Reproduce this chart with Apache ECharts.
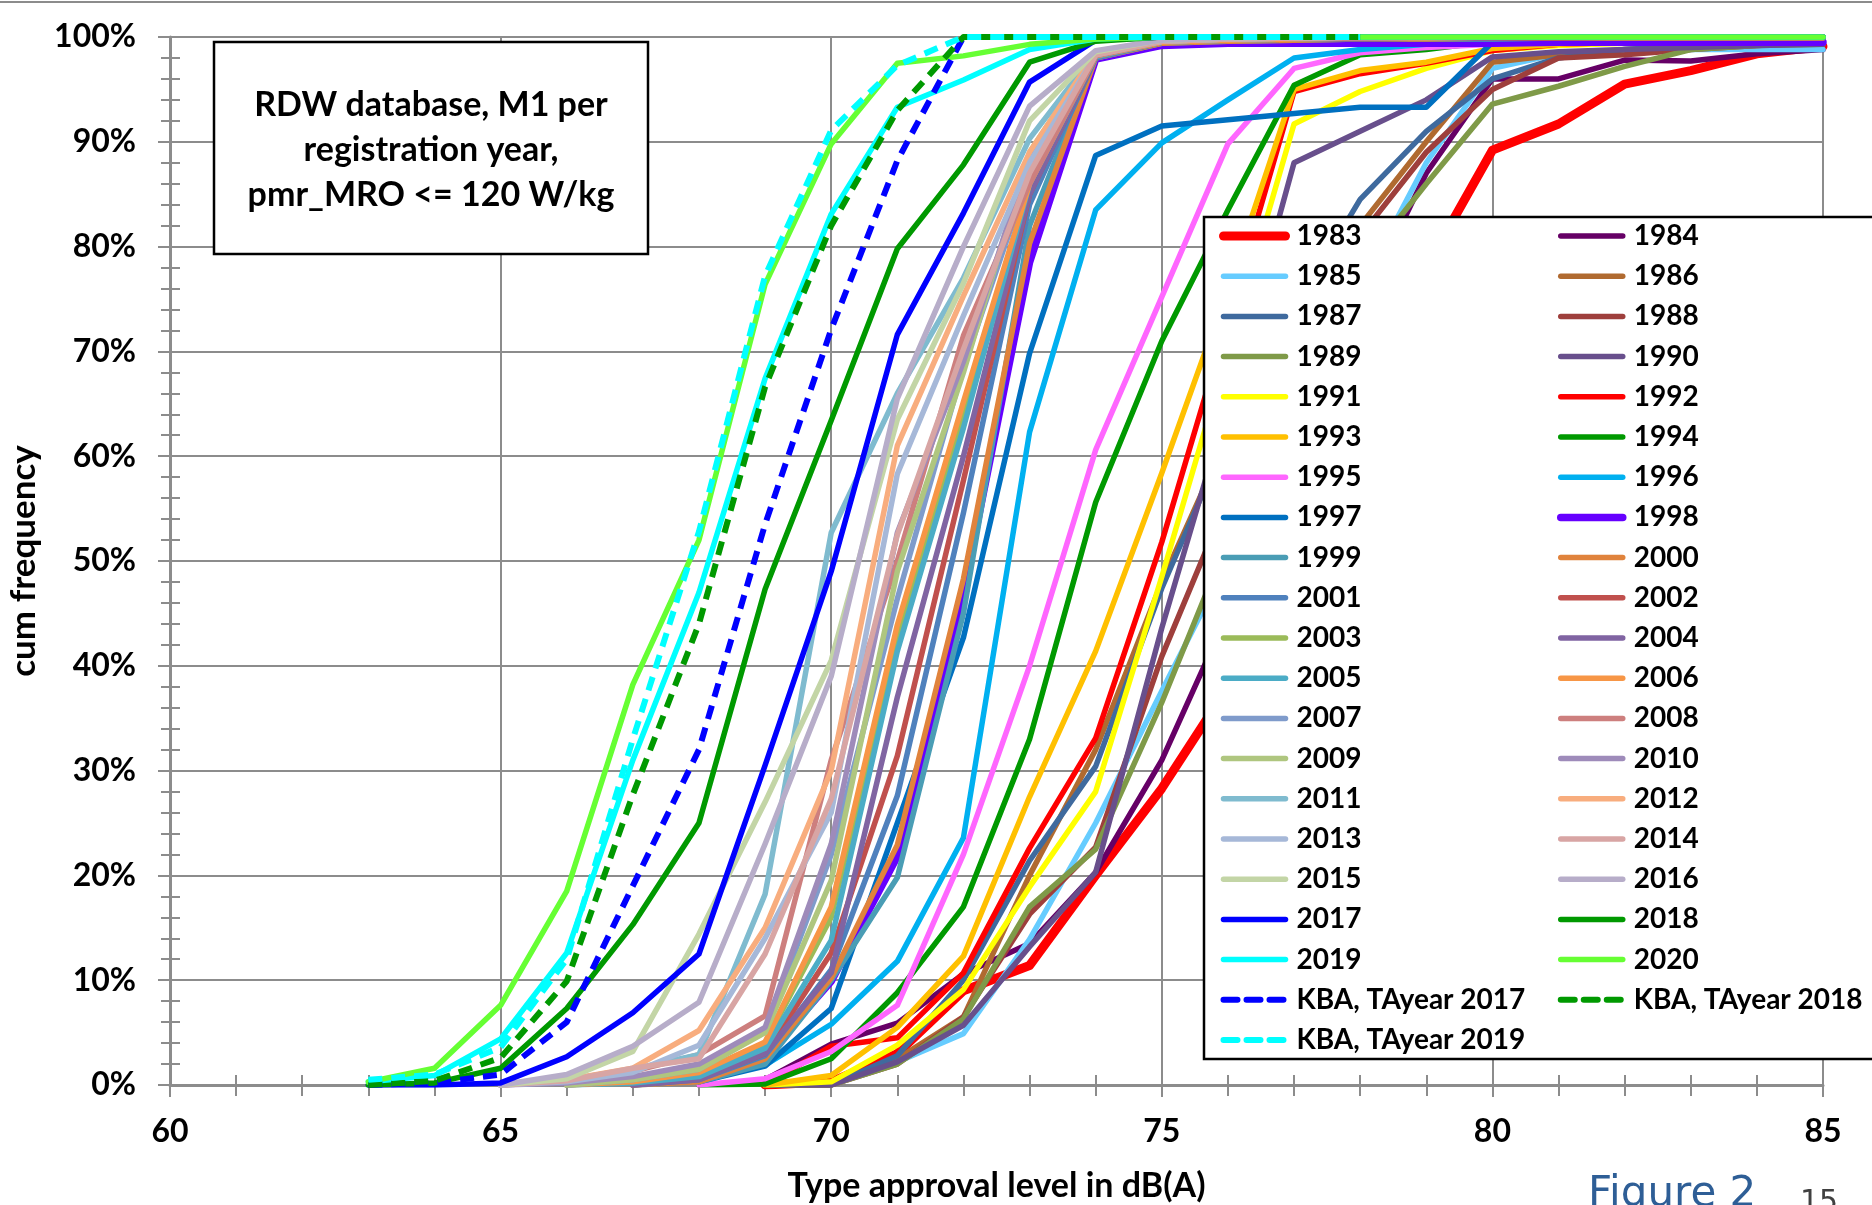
<!DOCTYPE html>
<html>
<head>
<meta charset="utf-8">
<script src="https://cdn.jsdelivr.net/npm/echarts@6/dist/echarts.min.js"></script>
<style>
html, body { margin: 0; padding: 0; background: #fff; }
#main { width: 1872px; height: 1205px; }
</style>
</head>
<body>
<div id="main"></div>
<script>
var n = null;
// type approval level (dB(A)) at each point
var levels = [63,64,65,66,67,68,69,70,71,72,73,74,75,76,77,78,79,80,81,82,83,84,85];

// cum frequency in %, one value per level (null = no point)
var s1983 = [n,n,n,n,n,n,0,0.3,3,9,11.4,20,28.3,38,50,63,78,89.2,91.7,95.5,96.8,98.4,99.1];
var s1984 = [n,n,n,n,n,n,0.5,3.9,5.9,10.6,13.5,20.3,31,45,60,74,87,96,96,97.8,97.7,98.4,98.8];
var s1985 = [n,n,n,n,n,n,0,0,2.2,4.9,13.9,25,37.6,50,64,76,88,97,98.4,98.6,98.8,98.8,98.8];
var s1986 = [n,n,n,n,n,n,0,0,2.5,6.5,20,32,48,62,73,82,90,97.6,98.3,98.8,99,99.3,99.5];
var s1987 = [n,n,n,n,n,n,0,0,2.8,10,21.4,30.4,47.4,62,74,84.5,91,96,98,98.8,99.2,99.4,99.5];
var s1988 = [n,n,n,n,n,n,0,0,2,6.5,16.3,22.7,40.9,56,70,81,89,95,98,98.3,98.8,99.2,99.5];
var s1989 = [n,n,n,n,n,n,0,0,2,6.3,17,22.5,36.5,52,66,78,86,93.6,95.3,97.2,98.8,99.2,99.3];
var s1990 = [n,n,n,n,n,n,0,0,2.2,5.7,13.2,20.3,43.6,65,88,91,94,98.1,98.6,98.8,99,99.2,99.3];
var s1991 = [n,n,n,n,n,n,0,0.3,3.8,9.1,18.9,28,48.5,70,91.7,94.8,97,98.7,99.2,99.4,99.5,99.5,99.6];
var s1992 = [n,n,n,n,n,n,0,3.7,4.5,10.7,22.6,33.1,51.8,73,94.8,96.5,97.5,98.7,99.3,99.5,99.6,99.6,99.7];
var s1993 = [n,n,n,n,n,n,0,0.9,5.5,12.3,27.5,41.4,58.4,76,95,96.8,97.6,98.9,99.3,99.5,99.6,99.7,99.7];
var s1994 = [n,n,n,n,n,0,0.1,2.5,8.8,17,33,55.6,71,83.5,95.4,98.3,98.8,99.6,99.7,99.8,99.8,99.8,99.8];
var s1995 = [n,n,n,n,n,0,0.6,3.2,7.6,22,40,60.6,75.2,89.8,97,98.5,99,99.3,99.5,99.6,99.7,99.7,99.8];
var s1996 = [n,n,n,n,n,0.5,1.9,5.8,11.8,23.6,62.3,83.5,89.9,94,98,98.8,99.3,99.6,99.7,99.8,99.8,99.8,99.8];
var s1997 = [n,n,n,n,n,0.3,1.8,7.3,25,42.7,69.8,88.7,91.5,92.1,92.7,93.3,93.3,99.5,99.6,99.7,99.7,99.8,99.8];
var s1998 = [n,n,n,n,n,0.5,2.7,9.9,21.8,47,78.5,97.9,99.2,99.4,99.4,99.4,99.4,99.4,99.5,99.5,99.5,99.5,99.5];
var s1999 = [n,n,n,n,0,0.3,2,10,19.8,45,82,98,99.4,99.6,99.7,99.8,99.8,99.8,99.9,99.9,99.9,99.9,99.9];
var s2000 = [n,n,n,n,0,0.3,2.5,10.2,22.9,48.3,80.3,98,99.4,99.6,99.7,99.8,99.8,99.9,99.9,99.9,99.9,99.9,99.9];
var s2001 = [n,n,n,n,0,0.5,2.8,11,27.6,54.6,84,98,99.5,99.7,99.8,99.8,99.9,99.9,99.9,100,100,100,100];
var s2002 = [n,n,n,n,0,0.6,3,12.6,31.4,57.7,85,98.1,99.5,99.7,99.8,99.8,99.9,99.9,99.9,100,100,100,100];
var s2003 = [n,n,n,0,0.3,1,4,16,43,64,86,98.2,99.5,99.7,99.8,99.9,99.9,100,100,100,100,100,100];
var s2004 = [n,n,n,n,0,0.5,3,10.7,37,60,85,98.1,99.5,99.7,99.8,99.8,99.9,99.9,100,100,100,100,100];
var s2005 = [n,n,n,0,0.2,0.8,3.5,13.8,41.4,62.7,86,98.1,99.5,99.7,99.8,99.9,99.9,100,100,100,100,100,100];
var s2006 = [n,n,n,0,0.3,1.2,4.1,17,43.9,65.2,86,98.2,99.5,99.7,99.8,99.9,99.9,100,100,100,100,100,100];
var s2007 = [n,n,n,0,0.5,1.5,5.1,22,46.4,68.5,87,98.3,99.6,99.8,99.9,99.9,100,100,100,100,100,100,100];
var s2008 = [n,n,0,0.3,1.3,2.9,6.6,31,50,71.5,86,98.2,99.6,99.8,99.9,99.9,100,100,100,100,100,100,100];
var s2009 = [n,n,n,0,0.5,1.5,5,19.5,49,68,89,98.5,99.6,99.8,99.9,100,100,100,100,100,100,100,100];
var s2010 = [n,n,0,0.2,0.8,2,5.5,23,52.7,69,88.5,98.4,99.6,99.8,99.9,100,100,100,100,100,100,100,100];
var s2011 = [n,n,0,0.5,1.5,2.9,18.2,52.7,66,77,90.3,98.5,99.6,99.8,99.9,100,100,100,100,100,100,100,100];
var s2012 = [n,n,0,0.5,1.6,5.2,15,30,61,75.3,89,98.5,99.6,99.8,99.9,100,100,100,100,100,100,100,100];
var s2013 = [n,n,0,0.3,1.2,3.8,14,26,58.3,73.4,88,98.3,99.6,99.8,99.9,100,100,100,100,100,100,100,100];
var s2014 = [n,n,0,0.4,1.6,2.5,12.5,27.3,52.5,70.2,87,98.3,99.6,99.8,99.9,100,100,100,100,100,100,100,100];
var s2015 = [n,n,0,0.6,3.2,14.4,27,40.5,63.5,76.5,92,98.6,99.7,99.9,100,100,100,100,100,100,100,100,100];
var s2016 = [n,n,0,1,3.7,7.9,23,39,65.5,80,93.4,98.7,99.7,99.9,100,100,100,100,100,100,100,100,100];
var s2017 = [0,0,0.2,2.7,6.9,12.5,30.5,49,71.6,83.2,95.7,99.7,100,100,100,100,100,100,100,100,100,100,100];
var s2018 = [0,0.2,1.6,7.3,15.3,25,47.3,63.4,79.8,87.8,97.6,99.6,100,100,100,100,100,100,100,100,100,100,100];
var s2019 = [0.3,0.9,4.4,12.6,31,47,67.4,83.1,93.3,95.9,98.8,99.8,100,100,100,100,100,100,100,100,100,100,100];
var s2020 = [0.3,1.6,7.6,18.5,38.2,52,76.4,89.8,97.5,98.2,99.3,99.8,100,100,100,100,100,100,100,100,100,100,100];
var kba2017 = [0,0.2,1,6,19,32,53.5,72.1,88.2,100,100,100,100,100,100,100,n,n,n,n,n,n,n];
var kba2018 = [0,0.4,2.6,9.9,27.7,44,66.6,82,93,100,100,100,100,100,100,100,n,n,n,n,n,n,n];
var kba2019 = [0.5,1,3.6,12,33,52.8,77.2,91.1,97.3,100,100,100,100,100,100,100,n,n,n,n,n,n,n];

var names = ['1983','1984','1985','1986','1987','1988','1989','1990','1991','1992','1993','1994',
  '1995','1996','1997','1998','1999','2000','2001','2002','2003','2004','2005','2006','2007','2008',
  '2009','2010','2011','2012','2013','2014','2015','2016','2017','2018','2019','2020',
  'KBA, TAyear 2017','KBA, TAyear 2018','KBA, TAyear 2019'];
var values = [s1983,s1984,s1985,s1986,s1987,s1988,s1989,s1990,s1991,s1992,s1993,s1994,
  s1995,s1996,s1997,s1998,s1999,s2000,s2001,s2002,s2003,s2004,s2005,s2006,s2007,s2008,
  s2009,s2010,s2011,s2012,s2013,s2014,s2015,s2016,s2017,s2018,s2019,s2020,
  kba2017,kba2018,kba2019];
var colors = ['#FF0000','#660066','#66CCFF','#B06A30','#3F6A9E','#9E3F3C','#7F9A48','#684F8C',
  '#FFFF00','#FF0000','#FFC000','#009900','#FF66FF','#00B0F0','#0070C0','#6600FF','#4A9DB5',
  '#E0833C','#4F81BD','#C0504D','#9BBB59','#8064A2','#4BACC6','#F79646','#7F9BCB','#CD7F7E',
  '#AFC67F','#9E8BBA','#7FBBCF','#F8AD7E','#A6B8D8','#D8A5A4','#C3D5A6','#B7ADC9','#0000FF',
  '#009900','#00FFFF','#66FF33','#0000FF','#009900','#00FFFF'];

var font = 'Lato';
var gray = '#8c8c8c';
var series = [];
for (var i = 0; i < names.length; i++) {
  var pts = [];
  for (var j = 0; j < levels.length; j++) {
    if (values[i][j] !== null) pts.push([levels[j], values[i][j]]);
  }
  var kba = names[i].indexOf('KBA') === 0;
  var w = 5.5;
  if (names[i] === '1983') w = 9;
  if (names[i] === '1998') w = 7.5;
  if (kba) w = 6;
  series.push({
    name: names[i],
    type: 'line',
    data: pts,
    symbol: 'none',
    z: 2,
    color: colors[i],
    lineStyle: {
      width: w,
      color: colors[i],
      type: kba ? [14, 9] : 'solid',
      cap: kba ? 'butt' : 'round',
      join: 'round'
    }
  });
}

// legend columns, read row by row in the picture
var leftCol = [], rightCol = [];
for (var k = 0; k < names.length; k++) {
  if (k % 2 === 0) leftCol.push(names[k]); else rightCol.push(names[k]);
}
var legendCommon = {
  orient: 'vertical',
  selectedMode: false,
  z: 10,
  padding: 0,
  itemWidth: 62,
  itemHeight: 14,
  itemGap: 12.2,
  top: 222,
  itemStyle: { opacity: 0 },
  lineStyle: { width: 'inherit', type: 'inherit', cap: 'round' },
  textStyle: { fontFamily: font, fontWeight: 'bold', fontSize: 28, color: '#000', lineHeight: 28,
    padding: [0, 0, 0, 6] }
};

// second pair of axes only draws the half of each minor tick that sits inside the plot
function innerTicks(extra) {
  return Object.assign({
    type: 'value',
    axisLine: { show: false },
    axisLabel: { show: false },
    splitLine: { show: false },
    axisTick: { show: false, inside: true },
    minorTick: { show: true, splitNumber: 5, length: 10, lineStyle: { color: gray, width: 2 } }
  }, extra);
}

var chart = echarts.init(document.getElementById('main'));
var option = {
  animation: false,
  backgroundColor: '#fff',
  grid: { left: 170, right: 49, top: 37, bottom: 120, outerBoundsMode: 'none' },
  xAxis: [{
    type: 'value', min: 60, max: 85, interval: 5, position: 'bottom',
    name: 'Type approval level in dB(A)',
    nameLocation: 'middle', nameGap: 84,
    nameTextStyle: { fontFamily: font, fontWeight: 'bold', fontSize: 34, color: '#000' },
    axisLine: { lineStyle: { color: gray, width: 3 } },
    axisTick: { show: true, length: 12, lineStyle: { color: gray, width: 2 } },
    minorTick: { show: true, splitNumber: 5, length: 11, lineStyle: { color: gray, width: 2 } },
    splitLine: { show: true, lineStyle: { color: gray, width: 2 } },
    axisLabel: { fontFamily: font, fontWeight: 'bold', fontSize: 32, color: '#000', margin: 31 }
  }, innerTicks({ min: 60, max: 85, interval: 5, position: 'bottom' })],
  yAxis: [{
    type: 'value', min: 0, max: 100, interval: 10, position: 'left',
    name: 'cum frequency',
    nameLocation: 'middle', nameGap: 129, nameRotate: 90,
    nameTextStyle: { fontFamily: font, fontWeight: 'bold', fontSize: 35, color: '#000' },
    axisLine: { show: true, lineStyle: { color: gray, width: 3 } },
    axisTick: { show: true, length: 12, lineStyle: { color: gray, width: 2 } },
    minorTick: { show: true, splitNumber: 5, length: 9, lineStyle: { color: gray, width: 2 } },
    splitLine: { show: true, lineStyle: { color: gray, width: 2 } },
    axisLabel: { fontFamily: font, fontWeight: 'bold', fontSize: 32, color: '#000', margin: 34,
      formatter: '{value}%' }
  }, innerTicks({ min: 0, max: 100, interval: 10, position: 'left' })],
  legend: [
    Object.assign({}, legendCommon, { left: 1219, data: leftCol }),
    Object.assign({}, legendCommon, { left: 1557, data: rightCol })
  ],
  graphic: {
    z: 5,
    elements: [
      { type: 'line', z: 5, shape: { x1: 0, y1: 2, x2: 1872, y2: 2 },
        style: { stroke: gray, lineWidth: 2 } },
      { type: 'rect', z: 5, shape: { x: 1204, y: 217, width: 700, height: 842 },
        style: { fill: '#fff', stroke: '#000', lineWidth: 2.5 } },
      { type: 'rect', z: 5, shape: { x: 214, y: 42, width: 434, height: 212 },
        style: { fill: '#fff', stroke: '#000', lineWidth: 2.5 } },
      { type: 'text', z: 6, x: 431, y: 150,
        style: { text: 'RDW database, M1 per\nregistra\u200Ction year,\npmr_MRO <= 120 W/kg',
          font: 'bold 34px Lato', fill: '#000', align: 'center', verticalAlign: 'middle', lineHeight: 45 } },
      { type: 'text', z: 6, x: 1588, y: 1174,
        style: { text: 'Figure 2', font: '42px "DejaVu Sans"', fill: '#2E5E96', verticalAlign: 'top' } },
      { type: 'text', z: 6, x: 1800, y: 1188,
        style: { text: '15', font: '30px "DejaVu Sans"', fill: '#404040', verticalAlign: 'top' } }
    ]
  },
  series: series
};
chart.setOption(option);
</script>
</body>
</html>
